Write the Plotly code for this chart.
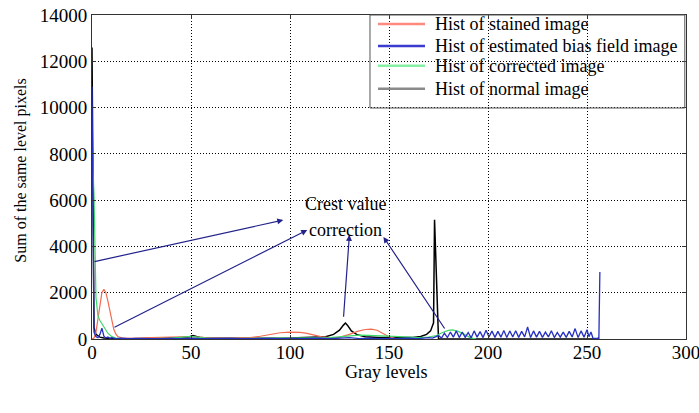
import plotly.graph_objects as go

# ---------------- data ----------------
x_ticks = [0, 50, 100, 150, 200, 250, 300]
y_ticks = [0, 2000, 4000, 6000, 8000, 10000, 12000, 14000]

stained_x = [0, 1, 2, 3, 4, 5, 6, 7, 8, 9, 10, 11, 12, 13, 15, 20, 30, 40, 45, 50, 55, 60, 70, 80, 85, 90, 95, 100, 105, 108, 112, 116, 120, 125, 130, 134, 138, 141, 144, 147, 150, 153, 156]
stained_y = [0, 40, 300, 900, 1600, 2000, 2150, 2000, 1650, 1200, 750, 420, 220, 110, 50, 30, 60, 90, 110, 100, 70, 40, 30, 60, 120, 200, 270, 300, 290, 250, 160, 90, 60, 70, 200, 330, 410, 430, 380, 250, 100, 30, 0]

bias_x = [0, 1, 2, 3, 4, 5, 6, 7, 8, 9, 10, 12, 15, 18, 22, 26, 30, 35, 40, 45, 50, 55, 60, 65, 70, 75, 80, 85, 90, 95, 100, 105, 110, 115, 120, 125, 130, 135, 140, 145, 150, 155, 160, 165, 170,
          172, 173.5, 175, 176.5, 178, 179.5, 181, 182.5, 184, 185.5, 187, 188.5, 190, 191.5, 193, 194.5, 196, 197.5, 199, 200.5, 202, 203.5, 205, 206.5, 208, 209.5, 211, 212.5, 214, 215.5, 217, 218.5, 220, 221.5, 223, 224.5, 226, 227.5, 229, 230.5, 232, 233.5, 235, 236.5, 238, 239.5, 241, 242.5, 244, 245.5, 247, 248.5, 250, 251, 252, 253, 255, 256, 256.5]
bias_y = [10900, 300, 100, 60, 200, 470, 120, 40, 90, 30, 60, 20, 40, 10, 30, 10, 20, 10, 30, 10, 40, 10, 20, 10, 30, 10, 20, 10, 30, 10, 30, 10, 20, 40, 10, 30, 60, 20, 40, 10, 30, 10, 40, 20, 60,
          40, 80, 150, 40, 250, 60, 300, 80, 350, 60, 300, 70, 280, 50, 350, 80, 320, 60, 380, 90, 340, 70, 330, 80, 370, 60, 350, 90, 360, 70, 330, 90, 520, 60, 350, 80, 330, 70, 300, 90, 360, 60, 280, 80, 300, 70, 330, 90, 450, 60, 350, 80, 400, 100, 300, 40, 20, 10, 2900]

corrected_x = [0, 1, 2, 3, 4, 5, 6, 7, 8, 10, 12, 15, 20, 30, 40, 45, 50, 55, 60, 70, 80, 90, 100, 110, 120, 125, 130, 135, 140, 145, 150, 155, 160, 165, 170, 174, 177, 180, 182, 185, 188, 191, 194]
corrected_y = [8300, 6300, 1800, 1000, 800, 650, 500, 350, 250, 100, 40, 15, 10, 20, 40, 70, 110, 60, 30, 20, 20, 30, 40, 50, 60, 100, 160, 170, 160, 150, 130, 100, 80, 60, 80, 150, 280, 370, 390, 330, 200, 60, 0]

normal_x = [0, 1, 2, 4, 6, 8, 10, 12, 15, 20, 30, 40, 48, 51, 55, 60, 70, 80, 90, 100, 110, 118, 122, 125, 127, 128, 129, 131, 134, 138, 145, 155, 162, 166, 169, 171, 172.5, 173, 174, 175, 180, 200, 230, 255, 256]
normal_y = [12600, 500, 200, 80, 40, 20, 10, 10, 5, 10, 20, 30, 60, 150, 60, 30, 20, 20, 30, 40, 60, 100, 200, 380, 600, 690, 600, 350, 180, 100, 60, 50, 70, 110, 200, 350, 700, 5150, 2550, 0, 0, 0, 0, 0, 60]

series_names = ["Hist of stained image", "Hist of estimated bias field image",
                "Hist of corrected image", "Hist of normal image"]

# ---------------- figure ----------------
fig = go.Figure()
fig.add_trace(go.Scatter(x=normal_x, y=normal_y, mode="lines", name=series_names[3],
                         line=dict(color="black", width=1.5)))
fig.add_trace(go.Scatter(x=stained_x, y=stained_y, mode="lines", name=series_names[0],
                         line=dict(color="#f26b50", width=1.2)))
fig.add_trace(go.Scatter(x=corrected_x, y=corrected_y, mode="lines", name=series_names[2],
                         line=dict(color="#3fd86a", width=1.2)))
fig.add_trace(go.Scatter(x=bias_x, y=bias_y, mode="lines", name=series_names[1],
                         line=dict(color="#2630c0", width=1.3)))

arrow_color = "#22228a"
arrows = [  # (tail_x, tail_y, head_x, head_y)
    (0.5, 3330, 96.6, 5140),
    (10.6, 475, 108.7, 4710),
    (127, 900, 130, 4500),
    (178.6, 390, 147.2, 4410),
]
for tx, ty, hx, hy in arrows:
    fig.add_annotation(x=hx, y=hy, ax=tx, ay=ty, xref="x", yref="y", axref="x", ayref="y",
                       text="", showarrow=True, arrowhead=2, arrowsize=1, arrowwidth=1.2,
                       arrowcolor=arrow_color, standoff=0, startstandoff=0)

fig.add_annotation(x=128, y=5830, xref="x", yref="y", text="Crest value", showarrow=False,
                   font=dict(family="Liberation Serif", size=18, color="black"))
fig.add_annotation(x=128, y=4710, xref="x", yref="y", text="correction", showarrow=False,
                   font=dict(family="Liberation Serif", size=18, color="black"))

# axis titles as text placed beside the axes
fig.add_annotation(x=-0.121, y=0.52, xref="paper", yref="paper", text="Sum of the same level pixels",
                   textangle=-90, showarrow=False, xanchor="center", yanchor="middle",
                   font=dict(family="Liberation Serif", size=16, color="black"))
fig.add_annotation(x=0.495, y=-0.103, xref="paper", yref="paper", text="Gray levels",
                   showarrow=False, xanchor="center", yanchor="middle",
                   font=dict(family="Liberation Serif", size=18, color="black"))

# legend (frame, sample lines and labels)
fig.add_shape(type="rect", xref="paper", yref="paper", x0=0.468, x1=0.998, y0=0.713, y1=1,
              line=dict(color="#555555", width=1), fillcolor="rgba(0,0,0,0)")
legend_colors = ["#ff8a80", "#3b3bd0", "#86f0a4", "#8a8a8a"]
legend_rows = [0.972, 0.904, 0.843, 0.772]
for name, col, yy in zip(series_names, legend_colors, legend_rows):
    fig.add_shape(type="line", xref="paper", yref="paper", x0=0.4815, x1=0.5606, y0=yy, y1=yy,
                  line=dict(color=col, width=2.5))
    fig.add_annotation(x=0.574, y=yy, xref="paper", yref="paper", text=name, showarrow=False,
                       xanchor="left", yanchor="middle",
                       font=dict(family="Liberation Serif", size=18, color="black"))

axis_common = dict(showline=True, linecolor="#333333", linewidth=1, mirror="ticks",
                   ticks="inside", ticklen=4, tickcolor="#333333", automargin=False,
                   ticklabeloverflow="allow",
                   showgrid=True, gridcolor="black", griddash="1px,2px", gridwidth=1,
                   zeroline=False, tickfont=dict(family="Liberation Serif", size=19, color="black"))

fig.update_xaxes(range=[0, 300], tickvals=x_ticks, ticktext=[str(v) for v in x_ticks],
                 ticklabelstandoff=-4, **axis_common)
fig.update_yaxes(range=[0, 14000], tickvals=y_ticks, ticktext=[str(v) for v in y_ticks], **axis_common)

fig.update_layout(
    width=699, height=413,
    margin=dict(l=92, r=13, t=15, b=74),
    plot_bgcolor="white", paper_bgcolor="white",
    showlegend=False,
)

# remove the default page margin so the figure fills the window exactly
fig.write_html("out.html", config={"displayModeBar": False},
               post_script="document.body.style.margin='0px';")
